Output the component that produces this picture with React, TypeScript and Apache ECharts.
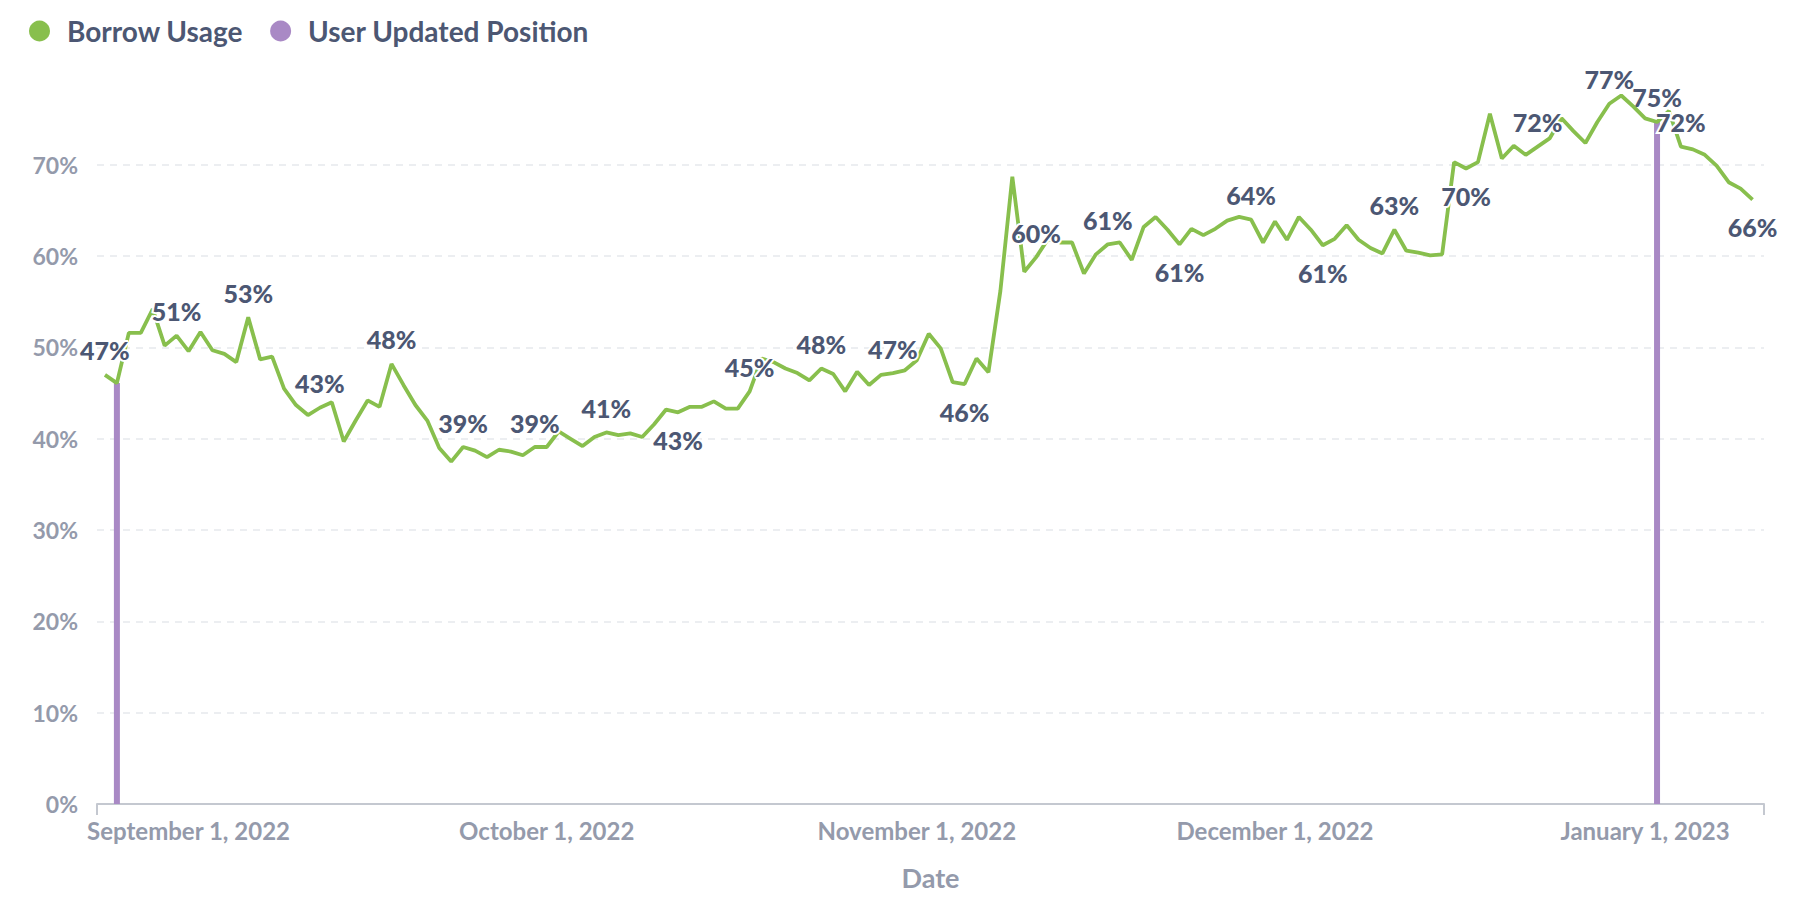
import React, { useEffect, useRef } from "react";
import * as echarts from "echarts";

// First day of the daily series (local date) and the daily Borrow Usage values (%)
const START_DATE = "2022-08-25";
const borrowUsage = [
  47.0, 46.1, 51.6, 51.6, 54.2, 50.2, 51.3, 49.6, 51.7, 49.7,
  49.3, 48.4, 53.3, 48.7, 49.0, 45.5, 43.7, 42.6, 43.4, 44.0,
  39.7, 42.0, 44.2, 43.5, 48.2, 45.9, 43.7, 42.0, 39.0, 37.5,
  39.1, 38.7, 38.0, 38.8, 38.6, 38.2, 39.1, 39.1, 40.8, 40.0,
  39.2, 40.2, 40.7, 40.4, 40.6, 40.2, 41.6, 43.2, 42.9, 43.5,
  43.5, 44.1, 43.3, 43.3, 45.2, 48.8, 48.4, 47.7, 47.2, 46.4,
  47.7, 47.1, 45.2, 47.35, 45.9, 47.0, 47.2, 47.5, 48.6, 51.5,
  49.9, 46.2, 46.0, 48.8, 47.3, 56.2, 68.7, 58.3, 59.9, 61.9,
  61.5, 61.5, 58.1, 60.2, 61.3, 61.5, 59.6, 63.2, 64.3, 62.9,
  61.3, 63.0, 62.3, 63.0, 63.9, 64.3, 64.0, 61.5, 63.8, 61.8,
  64.3, 62.9, 61.2, 61.9, 63.4, 61.8, 60.9, 60.3, 62.9, 60.6,
  60.4, 60.1, 60.2, 70.3, 69.6, 70.3, 75.6, 70.7, 72.1, 71.1,
  72.0, 72.9, 75.1, 73.7, 72.4, 74.7, 76.7, 77.6, 76.4, 75.1,
  74.7, 75.9, 72.0, 71.7, 71.1, 69.9, 68.1, 67.4, 66.2,
];

// Dates on which the user updated the position
const userUpdatedDates = ["2022-08-26", "2023-01-02"];

// X-axis tick labels (month starts) and axis extent
const monthTickDates = ["2022-09-01", "2022-10-01", "2022-11-01", "2022-12-01", "2023-01-01"];
const xAxisRange = ["2022-08-24T08:00", "2023-01-10T23:00"];

const MONTHS = [
  "January", "February", "March", "April", "May", "June",
  "July", "August", "September", "October", "November", "December",
];

const LABEL_EVERY = 6;

function parseLocal(s: string): number {
  const [datePart, timePart] = s.split("T");
  const [y, m, d] = datePart.split("-").map(Number);
  let hh = 0;
  let mm = 0;
  if (timePart) {
    [hh, mm] = timePart.split(":").map(Number);
  }
  return new Date(y, m - 1, d, hh, mm).getTime();
}

function dayKey(t: number): string {
  const d = new Date(t);
  return `${d.getFullYear()}-${d.getMonth()}-${d.getDate()}`;
}

const GREEN = "#88BF4D";
const PURPLE = "#A989C5";
const DARK = "#4C5773";
const LIGHT = "#949AAB";
const AXIS = "#C4C8D0";
const FONT = "Lato, 'Noto Sans', sans-serif";

export default function App() {
  const ref = useRef<HTMLDivElement>(null);

  useEffect(() => {
    document.body.style.margin = "0";
    if (!ref.current) return;
    const chart = echarts.init(ref.current, null, { renderer: "svg" });

    const start = parseLocal(START_DATE);
    const s = new Date(start);
    const times = borrowUsage.map((_, i) =>
      new Date(s.getFullYear(), s.getMonth(), s.getDate() + i).getTime()
    );
    const n = borrowUsage.length;
    const labeled = (i: number) => i % LABEL_EVERY === 0 || i === n - 1;
    const isLocalMin = (i: number) => {
      const v = borrowUsage[i];
      const prev = i > 0 ? borrowUsage[i - 1] : Infinity;
      const next = i < n - 1 ? borrowUsage[i + 1] : Infinity;
      return v < prev && v < next;
    };

    const labelStyle = {
      fontFamily: FONT,
      fontWeight: 900 as any,
      fontSize: 25,
      color: DARK,
      textBorderColor: "#ffffff",
      textBorderWidth: 4,
      formatter: (p: any) => `${Math.round(p.value[1])}%`,
    };

    const lineData = borrowUsage.map((v, i) => {
      const show = labeled(i);
      const below = isLocalMin(i);
      return {
        value: [times[i], v],
        label: {
          show,
          position: below ? "bottom" : "top",
          distance: below ? 15 : 12,
        },
      };
    });

    const indexByDay: Record<string, number> = {};
    times.forEach((t, i) => {
      indexByDay[dayKey(t)] = i;
    });

    const barData = userUpdatedDates.map((ds) => {
      const t = parseLocal(ds);
      const i = indexByDay[dayKey(t)];
      // hide the bar label where a neighbouring line label already exists
      const neighbourLabeled =
        labeled(i) || (i > 0 && labeled(i - 1)) || (i < n - 1 && labeled(i + 1));
      return {
        value: [t, borrowUsage[i]],
        label: { show: !neighbourLabeled },
      };
    });

    const xMin = parseLocal(xAxisRange[0]);
    const xMax = parseLocal(xAxisRange[1]);
    const monthTicks = monthTickDates.map(parseLocal);

    chart.setOption({
      animation: false,
      legend: {
        left: 24,
        top: 12,
        icon: "circle",
        itemWidth: 21,
        itemHeight: 21,
        itemGap: 27,
        selectedMode: false,
        textStyle: {
          fontFamily: FONT,
          fontWeight: 700,
          fontSize: 28,
          color: DARK,
          padding: [0, 0, 0, 12],
        },
        data: [
          { name: "Borrow Usage", itemStyle: { color: GREEN } },
          { name: "User Updated Position", itemStyle: { color: PURPLE } },
        ],
      },
      grid: {
        left: 97,
        right: 42,
        top: 95.5,
        bottom: 106,
        containLabel: false,
        outerBoundsMode: "none",
      },
      xAxis: {
        type: "value",
        min: xMin,
        max: xMax,
        scale: true,
        name: "Date",
        nameLocation: "middle",
        nameGap: 60,
        nameMoveOverlap: false,
        nameTextStyle: {
          fontFamily: FONT,
          fontWeight: 700,
          fontSize: 27,
          color: LIGHT,
        },
        axisLine: { show: true, lineStyle: { color: AXIS, width: 2 } },
        axisTick: {
          show: true,
          customValues: [xMin, xMax],
          length: 11,
          lineStyle: { color: AXIS, width: 2 },
        },
        axisLabel: {
          customValues: monthTicks,
          margin: 14,
          fontFamily: FONT,
          fontWeight: 700,
          fontSize: 24,
          color: LIGHT,
          formatter: (val: number) => {
            const d = new Date(val);
            return `${MONTHS[d.getMonth()]} ${d.getDate()}, ${d.getFullYear()}`;
          },
        },
        splitLine: { show: false },
      },
      yAxis: {
        type: "value",
        min: 0,
        max: "dataMax",
        interval: 10,
        axisLine: { show: false },
        axisTick: { show: false },
        axisLabel: {
          margin: 19,
          fontFamily: FONT,
          fontWeight: 700,
          fontSize: 23,
          color: LIGHT,
          showMaxLabel: false,
          formatter: (v: number) => `${v}%`,
        },
        splitLine: {
          show: true,
          showMaxLine: false,
          lineStyle: { color: "#ECEEF1", width: 2, type: [7, 6] },
        },
      },
      series: [
        {
          name: "User Updated Position",
          type: "bar",
          barWidth: 6,
          z: 1,
          itemStyle: { color: PURPLE },
          label: { ...labelStyle, position: "top", distance: 12 },
          data: barData,
        },
        {
          name: "Borrow Usage",
          type: "line",
          z: 2,
          showSymbol: true,
          symbol: "circle",
          symbolSize: 0,
          lineStyle: { color: GREEN, width: 3.8 },
          itemStyle: { color: GREEN },
          label: { ...labelStyle },
          labelLayout: { hideOverlap: false },
          data: lineData,
        },
      ],
    });

    return () => {
      chart.dispose();
    };
  }, []);

  return <div ref={ref} style={{ width: 1806, height: 910 }} />;
}
